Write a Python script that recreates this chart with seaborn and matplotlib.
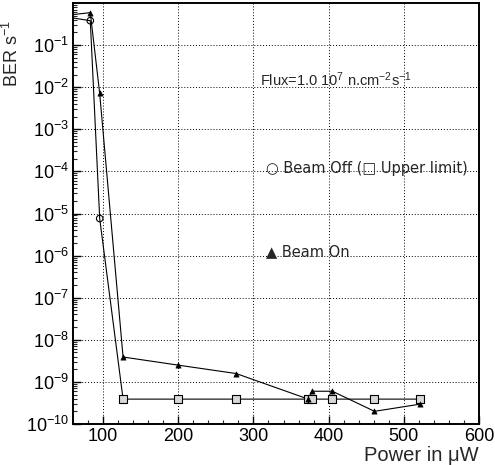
import numpy as np
import pandas as pd
import seaborn as sns
import matplotlib
matplotlib.use("Agg")
import matplotlib.pyplot as plt
from matplotlib.ticker import FixedLocator, LogLocator, MultipleLocator, FuncFormatter, NullFormatter

# ---- data ----
power_off = [60, 83, 95.5, 126.6, 200, 277, 373, 378, 405, 461, 521]
ber_off = [0.44, 0.38, 7.6e-6, 3.9e-10, 3.9e-10, 3.9e-10, 3.9e-10, 3.9e-10, 3.9e-10, 3.9e-10, 3.9e-10]
off_kind = ["edge", "circle", "circle", "square", "square", "square", "square", "square", "square", "square", "square"]

power_on = [60, 83, 95.5, 126.6, 200, 277, 373, 378, 405, 461, 521]
ber_on = [0.53, 0.59, 7.1e-3, 3.9e-9, 2.5e-9, 1.58e-9, 3.9e-10, 6.0e-10, 6.0e-10, 2.0e-10, 2.95e-10]

x_ticks = [100, 200, 300, 400, 500, 600]
y_ticks = [1e-10, 1e-9, 1e-8, 1e-7, 1e-6, 1e-5, 1e-4, 1e-3, 1e-2, 1e-1]

flux_text = r"Flux=1.0 10$^{7}$ n.cm$^{-2}$s$^{-1}$"
off_text = "○ Beam Off (□ Upper limit)"
on_text = "▲ Beam On"

df_off = pd.DataFrame({"power": power_off, "ber": ber_off, "kind": off_kind})
df_on = pd.DataFrame({"power": power_on, "ber": ber_on})

sns.set_style("white")
plt.rcParams["font.family"] = ["Liberation Sans", "DejaVu Sans"]
plt.rcParams["mathtext.fontset"] = "custom"
plt.rcParams["mathtext.rm"] = "Liberation Sans"
plt.rcParams["mathtext.it"] = "Liberation Sans:italic"
plt.rcParams["mathtext.bf"] = "Liberation Sans:bold"

fig = plt.figure(figsize=(4.95, 4.65), dpi=100)
ax = fig.add_axes([73 / 495, 1 - 424 / 465, 406 / 495, 421 / 465])

# lines
sns.lineplot(data=df_off, x="power", y="ber", sort=False, estimator=None,
             color="black", linewidth=0.8, ax=ax)
sns.lineplot(data=df_on, x="power", y="ber", sort=False, estimator=None,
             color="black", linewidth=0.8, ax=ax)

# markers
sns.scatterplot(data=df_off[df_off.kind == "circle"], x="power", y="ber", marker="o",
                s=22, facecolor="none", edgecolor="black", linewidth=0.8, ax=ax, zorder=3)
sns.scatterplot(data=df_off[df_off.kind == "square"], x="power", y="ber", marker="s",
                s=26, facecolor="#d8d8d8", edgecolor="black", linewidth=0.8, ax=ax, zorder=3)
sns.scatterplot(data=df_on.iloc[1:], x="power", y="ber", marker="^",
                s=14, color="black", edgecolor="black", linewidth=0.5, ax=ax, zorder=4)

ax.set_yscale("log")
ax.set_xlim(60, 600)
ax.set_ylim(1e-10, 1)

ax.xaxis.set_major_locator(FixedLocator(x_ticks))
ax.xaxis.set_minor_locator(MultipleLocator(20))
ax.yaxis.set_major_locator(FixedLocator(y_ticks))
ax.yaxis.set_minor_locator(LogLocator(base=10, subs=np.arange(2, 10), numticks=20))
ax.yaxis.set_minor_formatter(NullFormatter())
ax.yaxis.set_major_formatter(FuncFormatter(lambda v, p: r"$10^{%d}$" % int(round(np.log10(v)))))

ax.tick_params(axis="both", which="major", direction="in", length=6, width=1.0,
               labelsize=13, colors="black")
ax.tick_params(axis="x", which="major", pad=3)
ax.tick_params(axis="y", which="major", pad=3)
ax.tick_params(axis="both", which="minor", direction="in", length=3, width=0.8)
ax.tick_params(axis="y", which="both", left=True, right=False)
ax.tick_params(axis="x", which="both", bottom=True, top=False)

ax.grid(True, which="major", linestyle=(0, (1, 2)), color="black", linewidth=0.7)
for s in ax.spines.values():
    s.set_linewidth(1.4)
    s.set_color("black")

ax.set_xlabel("Power in μW", fontsize=14.5, loc="right")
ax.xaxis.set_label_coords(1.0, -0.052)
ax.set_ylabel(r"BER s$^{-1}$", fontsize=13, loc="top")
ax.yaxis.set_label_coords(-0.125, 0.96)

ax.text(309, 10 ** -1.83, flux_text, fontsize=10.5, va="center", ha="left")
ax.text(317, 10 ** -3.92, off_text, fontsize=10.5, va="center", ha="left",
        family=["DejaVu Sans"])
ax.text(317, 10 ** -5.9, on_text, fontsize=10.5, va="center", ha="left",
        family=["DejaVu Sans"])

fig.savefig("out.png", dpi=100)
